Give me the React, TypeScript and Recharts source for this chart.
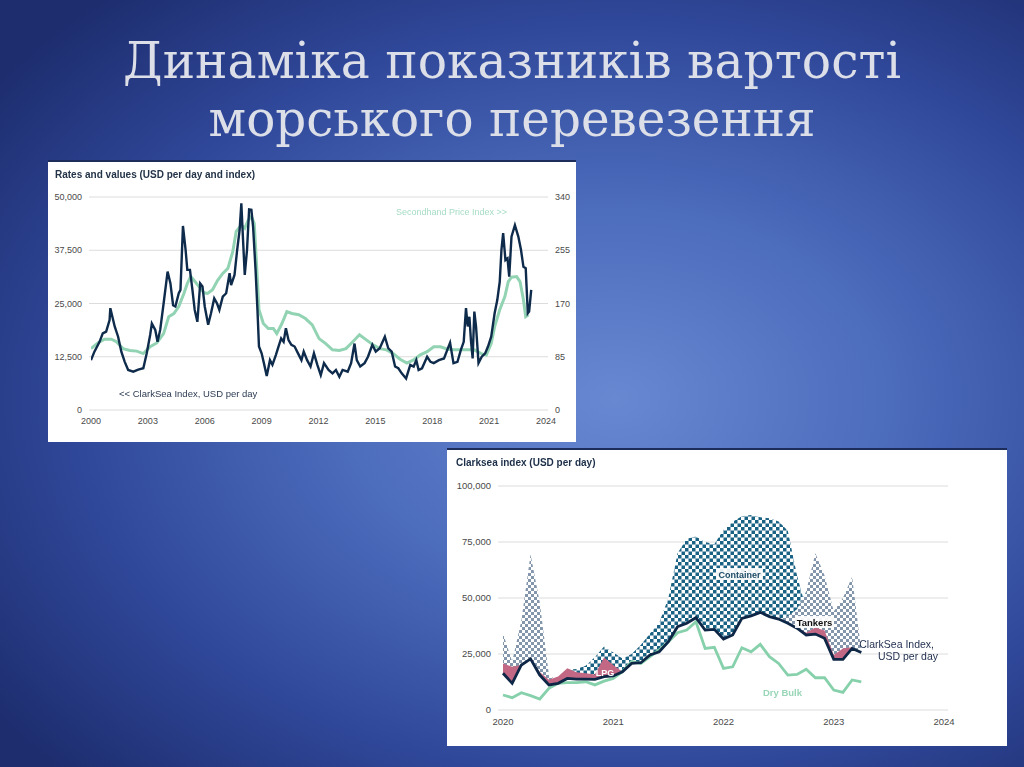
import {
  Area,
  CartesianGrid,
  ComposedChart,
  Line,
  LineChart,
  XAxis,
  YAxis,
} from 'recharts';

// ---- top chart: ClarkSea index vs secondhand price index, 2000-2023 ----
const clarkSeaDates = [
  2000.0, 2000.18, 2000.45, 2000.62, 2000.8, 2000.98, 2001.02, 2001.25, 2001.43, 2001.6,
  2001.78, 2001.96, 2002.23, 2002.49, 2002.76, 2002.94, 2003.12, 2003.21, 2003.39, 2003.51,
  2003.65, 2003.83, 2004.04, 2004.19, 2004.33, 2004.45, 2004.63, 2004.72, 2004.85, 2004.99,
  2005.08, 2005.22, 2005.35, 2005.47, 2005.61, 2005.76, 2005.88, 2006.0, 2006.18, 2006.33,
  2006.5, 2006.65, 2006.77, 2006.95, 2007.13, 2007.31, 2007.39, 2007.57, 2007.71, 2007.84,
  2007.93, 2008.02, 2008.11, 2008.23, 2008.34, 2008.46, 2008.55, 2008.68, 2008.78, 2008.86,
  2009.0, 2009.12, 2009.27, 2009.44, 2009.57, 2009.75, 2009.89, 2010.03, 2010.16, 2010.28,
  2010.42, 2010.57, 2010.74, 2010.92, 2011.1, 2011.22, 2011.4, 2011.58, 2011.76, 2011.94,
  2012.12, 2012.29, 2012.53, 2012.74, 2012.92, 2013.1, 2013.27, 2013.54, 2013.72, 2013.9,
  2014.02, 2014.2, 2014.43, 2014.61, 2014.84, 2015.02, 2015.23, 2015.5, 2015.68, 2015.86,
  2016.04, 2016.21, 2016.39, 2016.62, 2016.84, 2017.02, 2017.16, 2017.28, 2017.46, 2017.73,
  2017.91, 2018.08, 2018.35, 2018.62, 2018.94, 2019.12, 2019.33, 2019.51, 2019.66, 2019.78,
  2019.87, 2019.96, 2020.04, 2020.13, 2020.22, 2020.31, 2020.44, 2020.61, 2020.79, 2020.94,
  2021.11, 2021.29, 2021.43, 2021.56, 2021.65, 2021.74, 2021.86, 2021.97, 2022.06, 2022.18,
  2022.36, 2022.54, 2022.68, 2022.81, 2022.93, 2023.04, 2023.11, 2023.22,
];
const clarkSeaRates = [
  11700, 13700, 16000, 18000, 18400, 21100, 23900, 19600, 17200, 13700,
  11300, 9400, 9000, 9500, 9800, 13300, 17600, 20300, 18800, 16000,
  18800, 25000, 32500, 29700, 24600, 24300, 27400, 28200, 43200, 37600,
  32900, 32900, 28200, 23500, 20700, 29700, 29000, 24300, 20000, 22700,
  26200, 25000, 23500, 26600, 27400, 32100, 29300, 31700, 37600, 42300,
  48500, 39900, 31700, 37600, 47100, 47000, 43000, 32900, 23500, 14900,
  13300, 11000, 8000, 11700, 10600, 12900, 14900, 16800, 16000, 19200,
  16400, 15300, 14900, 13300, 11700, 13700, 11700, 10200, 13300, 10600,
  8200, 11000, 9400, 8600, 9400, 7800, 9400, 9000, 11000, 15600,
  11700, 10200, 11000, 12500, 15300, 13700, 14500, 17200, 14500, 13700,
  10200, 9800, 8600, 7400, 10600, 10200, 11700, 9400, 9800, 12500,
  11300, 11000, 11700, 12100, 15800, 11000, 11300, 14100, 16000, 23900,
  19600, 21900, 16400, 12100, 23100, 19600, 11000, 12500, 13300, 14900,
  17200, 22700, 25800, 30100, 37600, 41500, 35200, 35600, 31300, 40700,
  43400, 40700, 37600, 33600, 33300, 22700, 23100, 28200,
];

const priceIndexDates = [
  2000.0, 2000.36, 2000.71, 2001.07, 2001.34, 2001.69, 2002.05, 2002.41, 2002.76, 2003.12,
  2003.47, 2003.83, 2004.1, 2004.37, 2004.63, 2004.9, 2005.08, 2005.26, 2005.43, 2005.7,
  2005.97, 2006.15, 2006.41, 2006.68, 2006.95, 2007.22, 2007.48, 2007.66, 2007.93, 2008.11,
  2008.29, 2008.46, 2008.61, 2008.73, 2008.86, 2009.09, 2009.35, 2009.62, 2009.8, 2010.07,
  2010.33, 2010.6, 2010.96, 2011.31, 2011.67, 2012.03, 2012.38, 2012.74, 2013.1, 2013.45,
  2013.81, 2014.16, 2014.52, 2014.88, 2015.23, 2015.59, 2015.95, 2016.3, 2016.66, 2017.02,
  2017.37, 2017.73, 2018.08, 2018.44, 2018.8, 2019.15, 2019.51, 2019.87, 2020.22, 2020.58,
  2020.85, 2021.11, 2021.29, 2021.56, 2021.83, 2022.01, 2022.18, 2022.45, 2022.63, 2022.81,
  2022.93, 2023.08,
];
const priceIndexValues = [
  98, 107, 113, 113, 109, 98, 95, 94, 90, 101,
  107, 122, 149, 154, 165, 186, 202, 213, 207, 197,
  187, 186, 192, 207, 218, 226, 253, 285, 295, 290,
  303, 309, 298, 234, 160, 138, 130, 130, 122, 138,
  157, 154, 152, 146, 136, 114, 106, 96, 95, 98,
  109, 120, 112, 104, 98, 96, 90, 81, 75, 80,
  88, 93, 101, 101, 97, 96, 96, 96, 96, 90,
  88, 106, 133, 160, 181, 205, 212, 213, 205, 176,
  149, 152,
];

const rateTicks = [0, 12500, 25000, 37500, 50000];
const indexTicks = [0, 85, 170, 255, 340];
const yearTicksTop = [2000, 2003, 2006, 2009, 2012, 2015, 2018, 2021, 2024];

// ---- bottom chart: monthly ClarkSea and sector earnings, Jan 2020 - Apr 2023 ----
const firstYear = 2020;
const clarkSeaMonthly = [
  16400, 11900, 20100, 22800, 15600, 11200, 11900, 14100, 13800, 13800,
  13700, 14900, 15200, 17100, 20800, 21100, 24600, 26000, 30500, 37200,
  38700, 41200, 35700, 36000, 31700, 33500, 40900, 42000, 43600, 41700,
  40600, 38700, 36500, 33500, 33900, 32000, 22600, 22600, 27500, 25700,
];
const dryBulk = [
  6700, 5500, 7700, 6400, 4900, 9700, 11900, 12200, 12200, 12600,
  11200, 12900, 14100, 17100, 21600, 20800, 23800, 26800, 30500, 34500,
  35700, 39400, 27500, 28000, 18600, 19300, 27800, 26000, 29300, 23800,
  20800, 15600, 15900, 18200, 14400, 14400, 8900, 7900, 13400, 12600,
];
const container = [
  12000, 10000, 11000, 12000, 12500, 13000, 14000, 18000, 18300, 19800,
  23500, 28300, 25700, 23000, 25000, 29000, 34200, 39000, 50000, 70000,
  76500, 77400, 75000, 74000, 80500, 84000, 86500, 87000, 86000, 85600,
  84100, 80000, 60000, 45000, 36000, 30000, 22000, 20000, 18000, 17000,
];
const tankers = [
  34300, 21500, 40000, 69500, 48000, 15500, 13000, 12000, 10500, 10000,
  9500, 10000, 11000, 10500, 10000, 9500, 9000, 8500, 8000, 9000,
  10000, 12000, 14000, 13000, 15000, 18000, 25000, 30000, 28000, 35000,
  38000, 42000, 45000, 53000, 70000, 60000, 44000, 50000, 59500, 26000,
];
const lpg = [
  20800, 19300, 20100, 21000, 17000, 13500, 14900, 18600, 16800, 16400,
  15900, 23400, 20100, 16800, 19000, 18000, 18000, 20000, 22000, 25000,
  28000, 30000, 33000, 34000, 30000, 31000, 30000, 29000, 27000, 25000,
  26000, 30000, 33000, 34500, 36800, 35500, 24500, 27500, 28000, 25000,
];

const earningsTicks = [0, 25000, 50000, 75000, 100000];
const yearTicksBottom = [2020, 2021, 2022, 2023, 2024];

const clarkSeaData = clarkSeaDates.map((year, i) => ({ year, value: clarkSeaRates[i] }));
const priceIndexData = priceIndexDates.map((year, i) => ({ year, value: priceIndexValues[i] }));

// each sector is drawn as a band from the ClarkSea line up to its own earnings
const monthlyData = clarkSeaMonthly.map((idx, i) => ({
  t: firstYear + i / 12,
  idx,
  dryBulk: dryBulk[i],
  container: [idx, Math.max(idx, container[i])],
  tankers: [idx, Math.max(idx, tankers[i])],
  lpg: [idx, Math.max(idx, lpg[i])],
}));

const fmt = (v: number) => v.toLocaleString('en-US');
const tickFont = { fontFamily: 'Liberation Sans, Arial, sans-serif', fill: '#4a4a4a' };

const App = () => {
  return (
    <div
      style={{
        position: 'fixed',
        left: 0,
        top: 0,
        width: 1024,
        height: 767,
        overflow: 'hidden',
        background:
          'radial-gradient(ellipse 75% 70% at 60% 52%, #6888d2 0%, #4d6dbd 35%, #30489a 70%, #1d2d6e 100%)',
      }}
    >
      <div
        style={{
          position: 'absolute',
          left: 48,
          top: 160,
          width: 528,
          height: 280,
          background: '#fff',
          borderTop: '2px solid #1c2d5c',
        }}
      >
        <LineChart
          width={528}
          height={280}
          margin={{ top: 35, right: 0, left: 0, bottom: 0 }}
        >
          <CartesianGrid vertical={false} stroke="#dcdcdc" yAxisId="left" />
          <XAxis
            dataKey="year"
            type="number"
            domain={[2000, 2024]}
            ticks={yearTicksTop}
            allowDataOverflow
            padding={{ left: 2, right: 2 }}
            height={32}
            axisLine={false}
            tickLine={false}
            tickSize={0}
            tickMargin={8}
            tick={{ ...tickFont, fontSize: 9 }}
          />
          <YAxis
            yAxisId="left"
            width={41}
            domain={[0, 50000]}
            ticks={rateTicks}
            tickFormatter={fmt}
            axisLine={false}
            tickLine={false}
            tickSize={0}
            tickMargin={7}
            tick={{ ...tickFont, fontSize: 9 }}
          />
          <YAxis
            yAxisId="right"
            orientation="right"
            width={28}
            domain={[0, 340]}
            ticks={indexTicks}
            axisLine={false}
            tickLine={false}
            tickSize={0}
            tickMargin={7}
            tick={{ ...tickFont, fontSize: 9, textAnchor: 'start' }}
          />
          <Line
            yAxisId="right"
            data={priceIndexData}
            dataKey="value"
            type="linear"
            stroke="#92d3b3"
            strokeWidth={3}
            dot={false}
            isAnimationActive={false}
          />
          <Line
            yAxisId="left"
            data={clarkSeaData}
            dataKey="value"
            type="linear"
            stroke="#0e2b4c"
            strokeWidth={2.4}
            dot={false}
            isAnimationActive={false}
          />
        </LineChart>
      </div>

      <div
        style={{
          position: 'absolute',
          left: 447,
          top: 448,
          width: 560,
          height: 296,
          background: '#fff',
          borderTop: '2px solid #1c2d5c',
        }}
      >
        <ComposedChart
          width={560}
          height={296}
          data={monthlyData}
          margin={{ top: 36, right: 0, left: 0, bottom: 0 }}
        >
          <defs>
            <pattern id="chkContainer" width="7" height="7" patternUnits="userSpaceOnUse">
              <rect width="7" height="7" fill="#ffffff" />
              <rect width="3.5" height="3.5" fill="#1a6283" />
              <rect x="3.5" y="3.5" width="3.5" height="3.5" fill="#1a6283" />
            </pattern>
            <pattern id="chkTankers" width="6" height="6" patternUnits="userSpaceOnUse">
              <rect width="6" height="6" fill="#ffffff" />
              <rect width="3" height="3" fill="#8496ab" />
              <rect x="3" y="3" width="3" height="3" fill="#8496ab" />
            </pattern>
          </defs>
          <CartesianGrid vertical={false} stroke="#dcdcdc" yAxisId="left" />
          <XAxis
            dataKey="t"
            type="number"
            domain={[2020, 2024]}
            ticks={yearTicksBottom}
            padding={{ left: 5, right: 4 }}
            height={36}
            axisLine={false}
            tickLine={false}
            tickSize={0}
            tickMargin={8}
            tick={{ ...tickFont, fontSize: 9.5 }}
          />
          <YAxis
            yAxisId="left"
            width={51}
            domain={[0, 100000]}
            ticks={earningsTicks}
            tickFormatter={fmt}
            axisLine={false}
            tickLine={false}
            tickSize={0}
            tickMargin={7}
            tick={{ ...tickFont, fontSize: 9.5 }}
          />
          <YAxis
            yAxisId="right"
            orientation="right"
            width={59}
            domain={[0, 100000]}
            ticks={earningsTicks}
            tickFormatter={fmt}
            axisLine={false}
            tickLine={false}
            tickSize={0}
            tickMargin={9}
            tick={{ ...tickFont, fontSize: 9.5, textAnchor: 'start' }}
          />
          <Area
            yAxisId="left"
            dataKey="container"
            type="linear"
            stroke="none"
            fill="url(#chkContainer)"
            fillOpacity={1}
            isAnimationActive={false}
          />
          <Area
            yAxisId="left"
            dataKey="tankers"
            type="linear"
            stroke="none"
            fill="url(#chkTankers)"
            fillOpacity={1}
            isAnimationActive={false}
          />
          <Area
            yAxisId="left"
            dataKey="lpg"
            type="linear"
            stroke="none"
            fill="#c26784"
            fillOpacity={1}
            isAnimationActive={false}
          />
          <Line
            yAxisId="left"
            dataKey="dryBulk"
            type="linear"
            stroke="#86d1ab"
            strokeWidth={2.8}
            dot={false}
            isAnimationActive={false}
          />
          <Line
            yAxisId="left"
            dataKey="idx"
            type="linear"
            stroke="#0e2747"
            strokeWidth={2.8}
            dot={false}
            isAnimationActive={false}
          />
        </ComposedChart>
      </div>

      <svg
        width={1024}
        height={767}
        style={{ position: 'absolute', left: 0, top: 0, pointerEvents: 'none' }}
      >
        <g fontFamily="DejaVu Serif, serif" fill="#dcdfe8" fontSize={50} textAnchor="middle">
          <text x={512} y={78} textLength={778} lengthAdjust="spacingAndGlyphs">
            Динаміка показників вартості
          </text>
          <text x={512} y={136} textLength={607} lengthAdjust="spacingAndGlyphs">
            морського перевезення
          </text>
        </g>

        <g fontFamily="Liberation Sans, Arial, sans-serif">
          <text x={55} y={177.5} fontSize={10} fontWeight="bold" fill="#243448">
            Rates and values (USD per day and index)
          </text>
          <text x={396} y={215} fontSize={9} fill="#a6dcc5">
            Secondhand Price Index &gt;&gt;
          </text>
          <text x={119} y={396.5} fontSize={9.5} fill="#2c3b52">
            &lt;&lt; ClarkSea Index, USD per day
          </text>

          <text x={456} y={465.5} fontSize={10} fontWeight="bold" fill="#1c2e48">
            Clarksea index (USD per day)
          </text>
          <rect x={716} y={568} width={47} height={12} fill="#ffffff" fillOpacity={0.9} />
          <text x={739.5} y={577.5} fontSize={9} fontWeight="bold" fill="#1d4a66" textAnchor="middle">
            Container
          </text>
          <rect x={795} y={616} width={39} height={12} fill="#ffffff" fillOpacity={0.9} />
          <text x={814.5} y={625.5} fontSize={9.5} fontWeight="bold" fill="#111111" textAnchor="middle">
            Tankers
          </text>
          <text x={605} y={675.5} fontSize={9} fontWeight="bold" fill="#ffffff" textAnchor="middle">
            LPG
          </text>
          <text x={782.5} y={695.5} fontSize={9.5} fontWeight="bold" fill="#9ad6b8" textAnchor="middle">
            Dry Bulk
          </text>
          <text x={934} y={647.5} fontSize={10.5} fill="#1f2d4d" textAnchor="end">
            ClarkSea Index,
          </text>
          <text x={938} y={659.5} fontSize={10.5} fill="#1f2d4d" textAnchor="end">
            USD per day
          </text>
        </g>
      </svg>
    </div>
  );
};

export default App;
